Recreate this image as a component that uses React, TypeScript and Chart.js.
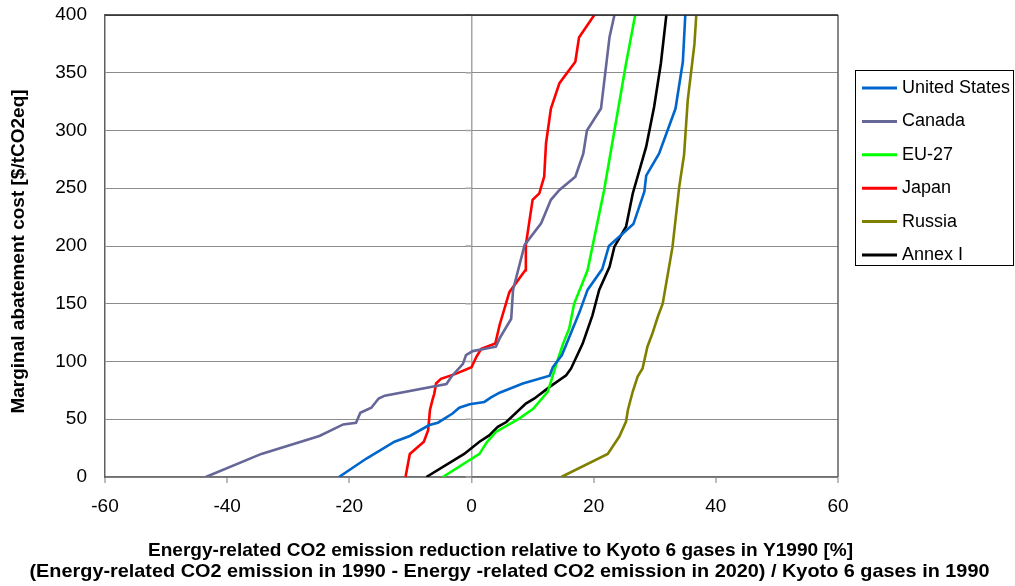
import React, { useEffect, useRef } from 'react';
import { Chart, registerables } from 'chart.js';

Chart.register(...registerables);

// ---------- data ----------
const seriesNames = ['United States', 'Canada', 'EU-27', 'Japan', 'Russia', 'Annex I'];
const seriesColors = ['#0066CC', '#666699', '#00FF00', '#FF0000', '#808000', '#000000'];

const usX = [-21.7, -17.2, -12.6, -10.1, -6.9, -5.5, -3.1, -2.0, -0.3, 2.1, 3.2, 4.6, 8.4, 12.8, 13.3, 14.8, 15.8, 17.7, 19.0, 21.4, 22.5, 26.5, 28.3, 28.6, 30.7, 33.4, 34.6, 35.0];
const usY = [0, 16, 30.6, 35.5, 45, 47, 55, 60, 63, 65, 69, 73, 81, 87.7, 95, 105.6, 118.5, 143, 162, 180, 200, 219, 247, 261, 280, 319, 359.5, 400];

const canadaX = [-43.5, -34.4, -24.9, -21.0, -18.9, -18.2, -16.4, -15.2, -14.2, -4.1, -3.3, -1.4, -0.9, 0.2, 4.0, 4.6, 6.5, 6.8, 8.7, 11.4, 13.0, 14.4, 17.0, 18.3, 18.9, 21.2, 22.6, 23.4];
const canadaY = [0, 20, 35.5, 45.5, 47, 55.6, 60, 68, 70.4, 80.5, 86.8, 98, 105.6, 109, 112.8, 120, 137, 162, 201, 219.6, 240, 248.5, 260, 280, 300, 319, 381, 400];

const euX = [-4.7, 1.3, 2.5, 4.0, 7.8, 10.1, 12.5, 13.9, 15.0, 16.0, 16.8, 19.0, 21.7, 23.4, 25.3, 26.8];
const euY = [0, 20, 30, 39, 50.5, 59, 74, 98, 115.5, 128.6, 150, 179, 248, 300, 358, 400];

const japanX = [-10.8, -10.1, -7.8, -7.1, -6.8, -6.4, -6.1, -5.8, -5.0, -2.5, 0, 0.8, 1.6, 3.9, 4.6, 6.2, 8.8, 8.9, 10.0, 11.1, 11.9, 12.2, 13.0, 14.4, 17.0, 17.6, 20.1];
const japanY = [0, 20, 30.5, 40.5, 58, 66.5, 72, 81, 85, 89.5, 95, 104, 111, 115.6, 131.6, 160, 179, 201, 240, 245.6, 260, 289, 319, 341, 359.5, 380.5, 400];

const russiaX = [14.7, 22.3, 24.2, 25.3, 25.6, 26.4, 27.2, 28.0, 28.8, 29.6, 30.5, 31.3, 32.9, 34.0, 34.8, 35.4, 36.5, 36.8];
const russiaY = [0, 20, 35, 48, 58, 74, 87, 94, 112.8, 124, 138.7, 150, 199, 251, 279, 326, 375, 400];

const annexX = [-7.4, -1.2, 1.3, 2.9, 4.3, 5.7, 8.9, 10.3, 12.8, 15.5, 16.3, 18.2, 19.8, 20.9, 22.6, 23.4, 25.3, 26.4, 28.6, 29.9, 31.0, 31.9];
const annexY = [0, 20, 30.5, 36, 43.5, 47.6, 63.6, 68, 78, 88, 94, 115.5, 140, 162, 182, 199.4, 216.7, 245.5, 286, 320.6, 358, 400];

const seriesX = [usX, canadaX, euX, japanX, russiaX, annexX];
const seriesY = [usY, canadaY, euY, japanY, russiaY, annexY];

const xMin = -60;
const xMax = 60;
const xStep = 20;
const yMin = 0;
const yMax = 400;
const yStep = 50;

const yTitle = 'Marginal abatement cost [$/tCO2eq]';
const xTitle1 = 'Energy-related CO2 emission reduction relative to Kyoto 6 gases in Y1990 [%]';
const xTitle2 = '(Energy-related CO2 emission in 1990 - Energy -related CO2 emission in 2020) / Kyoto 6 gases in 1990';

const FONT = '"Liberation Sans", Arial, Helvetica, sans-serif';

function fillFitted(ctx: CanvasRenderingContext2D, text: string, cx: number, y: number, width: number) {
  const w = ctx.measureText(text).width;
  ctx.save();
  ctx.translate(cx, y);
  ctx.scale(width / w, 1);
  ctx.textAlign = 'center';
  ctx.fillText(text, 0, 0);
  ctx.restore();
}

const decorPlugin = {
  id: 'decor',
  beforeDatasetsDraw(chart: any) {
    const { ctx, scales } = chart;
    const x0 = scales.x.getPixelForValue(0);
    ctx.save();
    ctx.strokeStyle = '#a6a6a6';
    ctx.lineWidth = 1.5;
    for (let v = yMin; v <= yMax; v += yStep) {
      const py = scales.y.getPixelForValue(v);
      ctx.beginPath();
      ctx.moveTo(x0 - 6, py);
      ctx.lineTo(x0, py);
      ctx.stroke();
    }
    ctx.restore();
  },
  afterDraw(chart: any) {
    const { ctx, chartArea: a } = chart;
    ctx.save();
    // plot border
    ctx.lineWidth = 1.5;
    ctx.strokeStyle = '#606060';
    ctx.beginPath();
    ctx.moveTo(a.right, a.top);
    ctx.lineTo(a.right, a.bottom);
    ctx.stroke();
    ctx.strokeStyle = '#202020';
    ctx.beginPath();
    ctx.moveTo(a.left, a.top);
    ctx.lineTo(a.right, a.top);
    ctx.stroke();

    // axis titles
    ctx.fillStyle = '#000';
    ctx.font = `bold 19px ${FONT}`;
    ctx.textBaseline = 'alphabetic';
    fillFitted(ctx, xTitle1, 500.5, 556, 705);
    fillFitted(ctx, xTitle2, 509.5, 577, 960);

    ctx.save();
    ctx.translate(24, 251.5);
    ctx.rotate(-Math.PI / 2);
    ctx.textAlign = 'center';
    ctx.fillText(yTitle, 0, 0);
    ctx.restore();

    // legend
    const lx = 855.5, ly = 70.5, lw = 158, lh = 195;
    ctx.fillStyle = '#fff';
    ctx.fillRect(lx, ly, lw, lh);
    ctx.strokeStyle = '#000';
    ctx.lineWidth = 1;
    ctx.strokeRect(lx, ly, lw, lh);
    ctx.font = `18px ${FONT}`;
    ctx.textAlign = 'left';
    ctx.textBaseline = 'middle';
    seriesNames.forEach((name, i) => {
      const cy = 88 + i * 33.4;
      ctx.strokeStyle = seriesColors[i];
      ctx.lineWidth = 3;
      ctx.beginPath();
      ctx.moveTo(862, cy);
      ctx.lineTo(897, cy);
      ctx.stroke();
      ctx.fillStyle = '#000';
      ctx.fillText(name, 902, cy);
    });
    ctx.restore();
  },
};

export default function App() {
  const canvasRef = useRef<HTMLCanvasElement | null>(null);

  useEffect(() => {
    const canvas = canvasRef.current;
    if (!canvas) return;
    const datasets = seriesNames.map((name, i) => ({
      label: name,
      data: seriesX[i].map((x, j) => ({ x, y: seriesY[i][j] })),
      borderColor: seriesColors[i],
      backgroundColor: seriesColors[i],
      borderWidth: 2.6,
      showLine: true,
      pointRadius: 0,
      pointHoverRadius: 0,
      tension: 0,
      fill: false,
    }));

    const chart = new Chart(canvas, {
      type: 'scatter',
      data: { datasets },
      plugins: [decorPlugin],
      options: {
        animation: false,
        responsive: false,
        maintainAspectRatio: false,
        devicePixelRatio: 1,
        layout: { padding: { left: 0, top: 15, right: 177, bottom: 0 } },
        plugins: {
          legend: { display: false },
          tooltip: { enabled: false },
          title: { display: false },
        },
        scales: {
          x: {
            type: 'linear',
            min: xMin,
            max: xMax,
            afterFit: (s: any) => {
              s.height = 109;
              s.paddingLeft = 0;
              s.paddingRight = 0;
              s.paddingTop = 0;
              s.paddingBottom = 0;
            },
            ticks: {
              stepSize: xStep,
              color: '#000',
              font: { family: FONT, size: 19 },
              padding: 12,
              maxRotation: 0,
            },
            grid: {
              color: (c: any) => (c.tick && c.tick.value === 0 ? '#a6a6a6' : 'rgba(0,0,0,0)'),
              lineWidth: (c: any) => (c.tick && c.tick.value === 0 ? 1.5 : 0),
              drawTicks: true,
              tickLength: 6,
              tickColor: '#a6a6a6',
              tickWidth: 1.5,
            },
            border: { display: true, color: '#707070', width: 1.5 },
          },
          y: {
            type: 'linear',
            min: yMin,
            max: yMax,
            afterFit: (s: any) => {
              s.width = 105;
              s.paddingLeft = 0;
              s.paddingRight = 0;
              s.paddingTop = 0;
              s.paddingBottom = 0;
            },
            ticks: {
              stepSize: yStep,
              color: '#000',
              font: { family: FONT, size: 19 },
              padding: 18,
            },
            grid: {
              color: '#8c8c8c',
              lineWidth: 1,
              drawTicks: false,
            },
            border: { display: true, color: '#606060', width: 1.5 },
          },
        },
      },
    });
    return () => chart.destroy();
  }, []);

  return (
    <div style={{ position: 'absolute', left: 0, top: 0, width: 1015, height: 586, background: '#fff' }}>
      <canvas ref={canvasRef} width={1015} height={586} style={{ display: 'block', width: 1015, height: 586 }} />
    </div>
  );
}
